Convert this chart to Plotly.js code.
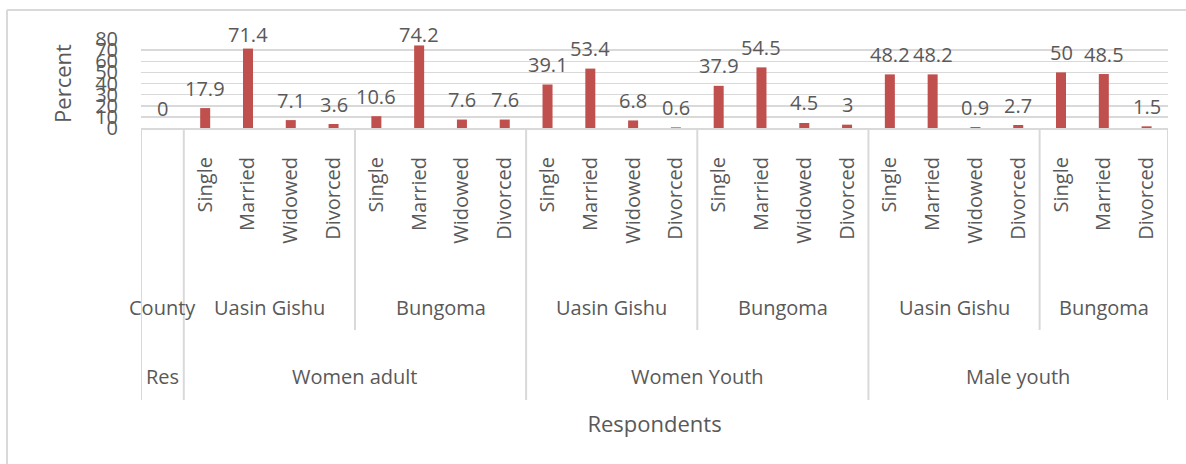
<!DOCTYPE html>
<html>
<head>
<meta charset="utf-8">
<script src="https://cdn.plot.ly/plotly-3.0.1.min.js"></script>
<style>html,body{margin:0;padding:0;background:#fff;}#chart{width:1186px;height:464px;}</style>
</head>
<body>
<div id="chart"></div>
<script>
// ---- data ----
const statuses = ['', 'Single', 'Married', 'Widowed', 'Divorced', 'Single', 'Married', 'Widowed', 'Divorced',
  'Single', 'Married', 'Widowed', 'Divorced', 'Single', 'Married', 'Widowed', 'Divorced',
  'Single', 'Married', 'Widowed', 'Divorced', 'Single', 'Married', 'Divorced'];
const counties = ['County', 'Uasin Gishu', 'Uasin Gishu', 'Uasin Gishu', 'Uasin Gishu', 'Bungoma', 'Bungoma', 'Bungoma', 'Bungoma',
  'Uasin Gishu', 'Uasin Gishu', 'Uasin Gishu', 'Uasin Gishu', 'Bungoma', 'Bungoma', 'Bungoma', 'Bungoma',
  'Uasin Gishu', 'Uasin Gishu', 'Uasin Gishu', 'Uasin Gishu', 'Bungoma', 'Bungoma', 'Bungoma'];
const respondents = ['Res', 'Women adult', 'Women adult', 'Women adult', 'Women adult', 'Women adult', 'Women adult', 'Women adult', 'Women adult',
  'Women Youth', 'Women Youth', 'Women Youth', 'Women Youth', 'Women Youth', 'Women Youth', 'Women Youth', 'Women Youth',
  'Male youth', 'Male youth', 'Male youth', 'Male youth', 'Male youth', 'Male youth', 'Male youth'];
const percent = [0, 17.9, 71.4, 7.1, 3.6, 10.6, 74.2, 7.6, 7.6, 39.1, 53.4, 6.8, 0.6, 37.9, 54.5, 4.5, 3, 48.2, 48.2, 0.9, 2.7, 50, 48.5, 1.5];
const yTicks = [0, 10, 20, 30, 40, 50, 60, 70, 80];

// ---- style ----
const FONT = 'Open Sans, Noto Sans, sans-serif';
const TXT = '#595959';
const GRID = '#d9d9d9';
const BAR = '#c0504d';
const plotH = 89; // px height of the plot area (margin-derived)
const pxPerUnit = plotH / 80;

const idx = percent.map((_, i) => i);

// runs for grouped labels
function runs(arr) {
  const out = [];
  let start = 0;
  for (let i = 1; i <= arr.length; i++) {
    if (i === arr.length || arr[i] !== arr[i - 1] || (arr === counties && respondents[i] !== respondents[i - 1])) {
      out.push({label: arr[start], a: start, b: i - 1});
      start = i;
    }
  }
  return out;
}
const countyRuns = runs(counties);
const respRuns = runs(respondents);

const annotations = [];
// data labels
percent.forEach((v, i) => {
  annotations.push({
    x: i, y: v, xref: 'x', yref: 'y', text: String(v), showarrow: false,
    yanchor: 'middle', yshift: Math.min(20, (83.6 - v) * pxPerUnit),
    font: {family: FONT, size: 20, color: TXT}
  });
});
const yLvl2 = (128 - 307) / plotH;
const yLvl3 = (128 - 376) / plotH;
countyRuns.forEach(r => annotations.push({
  x: (r.a + r.b) / 2, y: yLvl2, xref: 'x', yref: 'paper', text: r.label, showarrow: false,
  yanchor: 'middle', font: {family: FONT, size: 20, color: TXT}
}));
respRuns.forEach(r => annotations.push({
  x: (r.a + r.b) / 2, y: yLvl3, xref: 'x', yref: 'paper', text: r.label, showarrow: false,
  yanchor: 'middle', font: {family: FONT, size: 20, color: TXT}
}));

const shapes = [];
const lvl2Bottom = (128 - 330) / plotH;
const lvl3Bottom = (128 - 400) / plotH;
const respBounds = new Set([-0.5]);
respRuns.forEach(r => respBounds.add(r.b + 0.5));
countyRuns.forEach(r => {
  const xb = r.b + 0.5;
  if (!respBounds.has(xb)) {
    shapes.push({type: 'line', xref: 'x', yref: 'paper', x0: xb, x1: xb, y0: 0, y1: lvl2Bottom, line: {color: GRID, width: 2}});
  }
});
respBounds.forEach(xb => {
  shapes.push({type: 'line', xref: 'x', yref: 'paper', x0: xb, x1: xb, y0: 0, y1: lvl3Bottom, line: {color: GRID, width: 2}});
});
// outer chart border (left & top edges visible)
const bx = (7 - 141) / 1027, by = (128 - 10) / plotH;
shapes.push({type: 'line', xref: 'paper', yref: 'paper', x0: bx, x1: bx, y0: by, y1: (128 - 480) / plotH, line: {color: GRID, width: 2}});
shapes.push({type: 'line', xref: 'paper', yref: 'paper', x0: bx, x1: (1200 - 141) / 1027, y0: by, y1: by, line: {color: GRID, width: 2}});

const trace = {
  type: 'bar', x: idx, y: percent, width: 0.234,
  marker: {color: BAR}, hoverinfo: 'x+y', showlegend: false
};

const layout = {
  width: 1186, height: 464,
  margin: {l: 141, r: 18, t: 39, b: 336},
  paper_bgcolor: '#ffffff', plot_bgcolor: '#ffffff',
  font: {family: FONT, size: 20, color: TXT},
  xaxis: {
    range: [-0.5, 23.5], tickmode: 'array', tickvals: idx, ticktext: statuses,
    tickangle: -90, ticks: '', ticklabelstandoff: 19, showgrid: false, zeroline: false,
    showline: true, linecolor: GRID, linewidth: 2,
    tickfont: {family: FONT, size: 20, color: TXT},
    title: {text: 'Respondents', font: {family: FONT, size: 22, color: TXT}, standoff: 174},
    automargin: false
  },
  yaxis: {
    range: [0, 80], tickmode: 'array', tickvals: yTicks, ticks: '',
    ticklabelstandoff: 22, showgrid: true, gridcolor: GRID, gridwidth: 1.5, zeroline: false,
    showline: false, tickfont: {family: FONT, size: 20, color: TXT},
    title: {text: 'Percent', font: {family: FONT, size: 22, color: TXT}, standoff: 17},
    automargin: false
  },
  annotations: annotations,
  shapes: shapes,
  bargap: 0.77
};

Plotly.newPlot('chart', [trace], layout, {displayModeBar: false, staticPlot: true});
</script>
</body>
</html>
